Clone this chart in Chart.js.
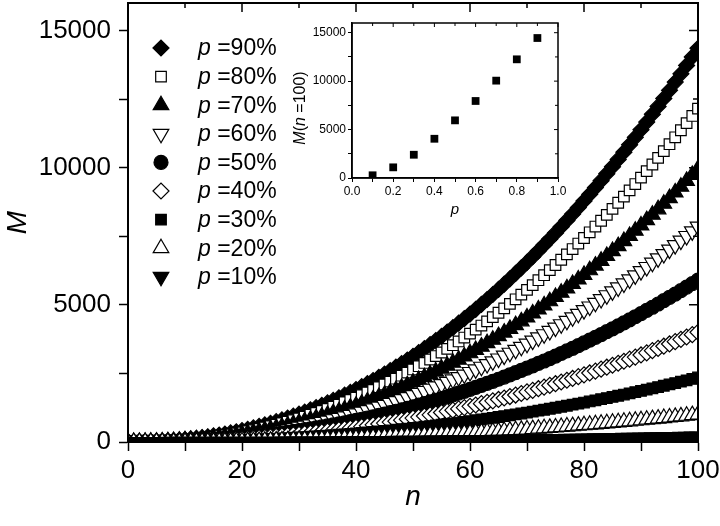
<!DOCTYPE html>
<html>
<head>
<meta charset="utf-8">
<script src="https://cdn.jsdelivr.net/npm/chart.js@4.4.1/dist/chart.umd.min.js"></script>
<style>
  html, body { margin: 0; padding: 0; background: #fff; }
  #wrap { position: relative; width: 720px; height: 526px; }
  #main { position: absolute; left: 0; top: 0; }
  #inset { position: absolute; left: 280px; top: 8px; }
</style>
</head>
<body>
<div id="wrap">
  <canvas id="main" width="720" height="526"></canvas>
  <canvas id="inset" width="290" height="222"></canvas>
</div>
<script>
// n = 0..100
const nValues = [0,1,2,3,4,5,6,7,8,9,10,11,12,13,14,15,16,17,18,19,20,21,22,23,24,25,26,27,28,29,30,31,32,33,34,35,36,37,38,39,40,41,42,43,44,45,46,47,48,49,50,51,52,53,54,55,56,57,58,59,60,61,62,63,64,65,66,67,68,69,70,71,72,73,74,75,76,77,78,79,80,81,82,83,84,85,86,87,88,89,90,91,92,93,94,95,96,97,98,99,100];

const m90 = [0,1,3,6,12,20,29,41,55,72, 91,112,135,161,190,221,255,291,330,372, 416,463,513,566,621,680,741,805,872,942, 1015,1091,1170,1252,1337,1425,1516,1610,1708,1808, 1912,2018,2128,2241,2357,2477,2600,2726,2855,2987, 3123,3262,3404,3550,3699,3852,4008,4167,4329,4495, 4664,4837,5013,5193,5376,5562,5752,5946,6143,6343, 6547,6755,6966,7181,7399,7620,7846,8075,8307,8543, 8783,9026,9273,9524,9778,10036,10298,10563,10832,11104, 11381,11661,11945,12232,12523,12818,13117,13419,13725,14035, 14350];
const m80 = [0,0,2,5,10,17,25,35,47,61, 77,95,114,137,161,187,216,246,279,315, 352,392,434,479,526,576,627,682,738,798, 859,924,991,1060,1132,1206,1284,1363,1446,1531, 1618,1709,1802,1898,1996,2097,2201,2308,2417,2529, 2644,2762,2882,3006,3132,3261,3393,3528,3665,3806, 3949,4095,4244,4397,4552,4710,4870,5034,5201,5371, 5543,5719,5898,6080,6264,6452,6643,6837,7033,7233, 7436,7642,7852,8064,8279,8497,8719,8943,9171,9402, 9636,9873,10113,10357,10603,10853,11106,11362,11621,11883, 12150];
const m70 = [0,0,2,4,8,14,20,29,38,50, 63,77,94,112,132,153,177,202,229,258, 288,321,356,392,431,471,514,558,605,653, 704,756,811,868,927,988,1051,1116,1184,1254, 1325,1399,1476,1554,1635,1717,1803,1890,1979,2071, 2166,2262,2361,2462,2565,2671,2779,2889,3002,3117, 3234,3354,3476,3601,3728,3857,3988,4123,4259,4398, 4540,4684,4830,4979,5130,5284,5440,5599,5760,5924, 6090,6259,6430,6604,6780,6959,7140,7324,7510,7699, 7891,8085,8282,8481,8683,8888,9095,9305,9517,9732, 9950];
const m60 = [0,0,1,4,7,11,16,23,30,39, 50,61,74,88,104,121,139,159,180,203, 228,253,281,309,340,372,405,440,477,515, 555,597,640,685,731,780,829,881,934,989, 1046,1104,1164,1226,1290,1355,1422,1491,1562,1634, 1708,1785,1862,1942,2024,2107,2192,2279,2368,2459, 2551,2646,2742,2841,2941,3043,3147,3253,3360,3470, 3582,3695,3811,3928,4047,4169,4292,4417,4544,4673, 4805,4938,5073,5210,5349,5490,5633,5778,5925,6074, 6226,6379,6534,6691,6851,7012,7176,7341,7508,7678, 7850];
const m50 = [0,0,1,3,5,8,12,17,23,30, 37,46,56,66,78,91,105,120,136,153, 171,190,211,233,255,279,305,331,359,387, 417,449,481,515,550,586,623,662,702,743, 786,830,875,921,969,1018,1069,1121,1174,1228, 1284,1341,1400,1460,1521,1584,1648,1713,1780,1848, 1918,1989,2061,2135,2210,2287,2365,2445,2526,2608, 2692,2777,2864,2952,3042,3133,3226,3320,3415,3512, 3611,3711,3813,3916,4020,4126,4234,4343,4453,4565, 4679,4794,4911,5029,5149,5270,5393,5517,5643,5771, 5900];
const m40 = [0,0,1,2,3,5,8,12,15,20, 25,31,38,45,53,62,71,81,92,104, 116,129,143,158,173,189,207,224,243,263, 283,304,326,349,373,397,423,449,476,504, 533,563,593,625,657,690,725,760,796,833, 871,909,949,990,1031,1074,1117,1161,1207,1253, 1300,1348,1397,1447,1499,1550,1603,1657,1712,1768, 1825,1883,1942,2002,2062,2124,2187,2251,2316,2381, 2448,2516,2585,2655,2726,2797,2870,2944,3019,3095, 3172,3250,3330,3410,3491,3573,3656,3741,3826,3912, 4000];
const m30 = [0,0,0,1,2,3,5,7,9,12, 15,18,22,26,31,36,42,48,54,61, 68,76,84,93,102,111,121,132,143,154, 166,179,192,205,219,233,248,264,280,296, 313,331,349,367,386,406,426,446,468,489, 511,534,558,581,606,631,656,682,709,736, 764,792,821,850,880,911,942,974,1006,1039, 1072,1106,1141,1176,1212,1248,1285,1322,1360,1399, 1438,1478,1519,1560,1601,1644,1686,1730,1774,1818, 1864,1910,1956,2003,2051,2099,2148,2198,2248,2298, 2350];
const m20 = [0,0,0,0,1,1,2,3,4,5, 6,8,9,11,13,15,18,20,23,26, 29,32,36,39,43,47,52,56,61,66, 71,76,82,87,93,99,106,112,119,126, 133,141,148,156,164,173,181,190,199,208, 218,227,237,247,258,268,279,290,302,313, 325,337,349,362,375,388,401,414,428,442, 456,471,485,500,516,531,547,563,579,595, 612,629,646,664,681,699,718,736,755,774, 793,813,832,852,873,893,914,935,956,978, 1000];
const m10 = [0,0,0,0,0,0,0,1,1,1, 1,2,2,2,3,3,4,4,5,5, 6,6,7,8,9,9,10,11,12,13, 14,15,16,17,19,20,21,22,24,25, 27,28,30,31,33,35,36,38,40,42, 44,45,47,49,52,54,56,58,60,63, 65,67,70,72,75,78,80,83,86,88, 91,94,97,100,103,106,109,113,116,119, 122,126,129,133,136,140,144,147,151,155, 159,163,166,170,175,179,183,187,191,196, 200];

const seriesLabels = ['90%', '80%', '70%', '60%', '50%', '40%', '30%', '20%', '10%'];
const seriesValues = [m90, m80, m70, m60, m50, m40, m30, m20, m10];

// inset: M at n = 100 against p
const insetP = [0.1, 0.2, 0.3, 0.4, 0.5, 0.6, 0.7, 0.8, 0.9];
const insetM = [280, 1100, 2400, 4050, 5950, 7950, 10050, 12250, 14450];

// tick positions (labels only on every other one)
const yTickValues = [0, 2500, 5000, 7500, 10000, 12500, 15000];

const markers = [
  { style: 'rectRot',  filled: true,  radius: 8,   rotation: 0 },
  { style: 'rect',     filled: false, radius: 7.5, rotation: 0 },
  { style: 'triangle', filled: true,  radius: 9,   rotation: 0 },
  { style: 'triangle', filled: false, radius: 9,   rotation: 180 },
  { style: 'circle',   filled: true,  radius: 7,   rotation: 0 },
  { style: 'rectRot',  filled: false, radius: 8,   rotation: 0 },
  { style: 'rect',     filled: true,  radius: 7.5, rotation: 0 },
  { style: 'triangle', filled: false, radius: 9,   rotation: 0 },
  { style: 'triangle', filled: true,  radius: 9,   rotation: 180 },
];

const FONT = '"Liberation Sans", Arial, sans-serif';

function isMajor(v, step) {
  const q = v / step;
  return Math.abs(q - Math.round(q)) < 1e-6;
}

// keep the plot box where it is, labels may stick out
function noPadding(s) {
  s.getPadding = () => ({ left: 0, top: 0, right: 0, bottom: 0 });
}

// box with inward ticks on top and right
const framePlugin = {
  id: 'frame',
  afterDatasetsDraw(chart, args, opts) {
    const { ctx, chartArea: a, scales: { x, y } } = chart;
    ctx.save();
    ctx.strokeStyle = '#000';
    ctx.lineWidth = opts.lineWidth;
    ctx.strokeRect(a.left, a.top, a.right - a.left, a.bottom - a.top);
    ctx.lineWidth = opts.tickWidth;
    ctx.beginPath();
    x.ticks.forEach(t => {
      const px = x.getPixelForValue(t.value);
      const len = isMajor(t.value, opts.majorX) ? opts.major : opts.minor;
      ctx.moveTo(px, a.top);
      ctx.lineTo(px, a.top + len);
    });
    y.ticks.forEach(t => {
      const py = y.getPixelForValue(t.value);
      const len = isMajor(t.value, opts.majorY) ? opts.major : opts.minor;
      ctx.moveTo(a.right, py);
      ctx.lineTo(a.right - len, py);
    });
    ctx.stroke();
    ctx.restore();
  }
};

const legendPlugin = {
  id: 'pLegend',
  afterDraw(chart) {
    const ctx = chart.ctx;
    ctx.save();
    seriesLabels.forEach((lab, i) => {
      const m = markers[i];
      const y = 48 + i * 28.6;
      ctx.fillStyle = m.filled ? '#000' : '#fff';
      ctx.strokeStyle = '#000';
      ctx.lineWidth = 1.2;
      Chart.helpers.drawPoint(ctx, { pointStyle: m.style, radius: m.radius, rotation: m.rotation, borderWidth: 1.2 }, 161, y);
      ctx.fillStyle = '#000';
      ctx.textBaseline = 'middle';
      ctx.textAlign = 'left';
      ctx.font = 'italic 23px ' + FONT;
      ctx.fillText('p', 198, y + 1);
      const w = ctx.measureText('p').width;
      ctx.font = '23px ' + FONT;
      ctx.fillText(' =' + lab, 198 + w, y + 1);
    });
    ctx.restore();
  }
};

const datasets = seriesValues.map((vals, i) => {
  const m = markers[i];
  return {
    label: 'p =' + seriesLabels[i],
    data: nValues.map((n, k) => ({ x: n, y: vals[k] })),
    pointStyle: m.style,
    pointRadius: m.radius,
    pointRotation: m.rotation,
    pointBackgroundColor: m.filled ? '#000' : '#fff',
    pointBorderColor: '#000',
    pointBorderWidth: 1.2,
    showLine: false,
    order: seriesValues.length - 1 - i,
  };
});

new Chart(document.getElementById('main'), {
  type: 'scatter',
  data: { datasets },
  options: {
    responsive: false,
    animation: false,
    devicePixelRatio: 1,
    layout: { autoPadding: false, padding: { top: 3, right: 22, left: 0, bottom: 0 } },
    plugins: {
      legend: { display: false },
      tooltip: { enabled: false },
      frame: { lineWidth: 2, tickWidth: 1.5, major: 9, minor: 5, majorX: 20, majorY: 5000 },
    },
    scales: {
      x: {
        type: 'linear', min: 0, max: 100,
        ticks: {
          stepSize: 10, autoSkip: false, maxRotation: 0, padding: 4, color: '#000',
          font: { family: FONT, size: 26 },
          callback: v => isMajor(v, 20) ? v : '',
        },
        grid: { drawOnChartArea: false, tickLength: 9, tickColor: '#000', tickWidth: 1.5 },
        border: { display: true, color: '#000', width: 2 },
        title: { display: true, text: 'n', color: '#000', font: { family: FONT, size: 28, style: 'italic' }, padding: { top: 0, bottom: 12 } },
        afterFit: s => { s.height = 84; noPadding(s); },
      },
      y: {
        type: 'linear', min: 0, max: 16000,
        afterBuildTicks: s => { s.ticks = yTickValues.map(v => ({ value: v })); },
        ticks: {
          autoSkip: false, padding: 8, color: '#000',
          font: { family: FONT, size: 26 },
          callback: v => isMajor(v, 5000) ? v : '',
        },
        grid: { drawOnChartArea: false, tickLength: 9, tickColor: '#000', tickWidth: 1.5 },
        border: { display: true, color: '#000', width: 2 },
        title: { display: true, text: 'M', color: '#000', font: { family: FONT, size: 28, style: 'italic' }, padding: { top: 1, bottom: 0 } },
        afterFit: s => { s.width = 128; noPadding(s); },
      },
    },
  },
  plugins: [framePlugin, legendPlugin],
});

// y title of the inset with italic M and n
const insetTitlePlugin = {
  id: 'insetTitle',
  afterDraw(chart) {
    const ctx = chart.ctx;
    const parts = [['M', 'italic '], ['(', ''], ['n', 'italic '], [' =100)', '']];
    ctx.save();
    ctx.translate(21, 100);
    ctx.rotate(-Math.PI / 2);
    ctx.fillStyle = '#000';
    ctx.textBaseline = 'middle';
    let total = 0;
    parts.forEach(([t, st]) => { ctx.font = st + '16px ' + FONT; total += ctx.measureText(t).width; });
    let x = -total / 2;
    parts.forEach(([t, st]) => {
      ctx.font = st + '16px ' + FONT;
      ctx.fillText(t, x, 0);
      x += ctx.measureText(t).width;
    });
    ctx.restore();
  }
};

new Chart(document.getElementById('inset'), {
  type: 'scatter',
  data: {
    datasets: [{
      label: 'M(n=100)',
      data: insetP.map((p, k) => ({ x: p, y: insetM[k] })),
      pointStyle: 'rect',
      pointRadius: 5.5,
      pointBackgroundColor: '#000',
      pointBorderColor: '#000',
      pointBorderWidth: 0,
    }],
  },
  options: {
    responsive: false,
    animation: false,
    devicePixelRatio: 1,
    layout: { autoPadding: false, padding: { top: 15, right: 12, left: 0, bottom: 0 } },
    plugins: {
      legend: { display: false },
      tooltip: { enabled: false },
      frame: { lineWidth: 1.5, tickWidth: 1, major: 4, minor: 3, majorX: 0.2, majorY: 5000 },
    },
    scales: {
      x: {
        type: 'linear', min: 0, max: 1,
        ticks: {
          stepSize: 0.1, autoSkip: false, maxRotation: 0, padding: 2, color: '#000',
          font: { family: FONT, size: 12 },
          callback: v => isMajor(v, 0.2) ? v.toFixed(1) : '',
        },
        grid: { drawOnChartArea: false, tickLength: 4, tickColor: '#000', tickWidth: 1 },
        border: { display: true, color: '#000', width: 1.5 },
        title: { display: true, text: 'p', color: '#000', font: { family: FONT, size: 15, style: 'italic' }, padding: { top: 0, bottom: 11 } },
        afterFit: s => { s.height = 52; noPadding(s); },
      },
      y: {
        type: 'linear', min: 0, max: 16000,
        afterBuildTicks: s => { s.ticks = yTickValues.map(v => ({ value: v })); },
        ticks: {
          autoSkip: false, padding: 2, color: '#000',
          font: { family: FONT, size: 12 },
          callback: v => isMajor(v, 5000) ? v : '',
        },
        grid: { drawOnChartArea: false, tickLength: 4, tickColor: '#000', tickWidth: 1 },
        border: { display: true, color: '#000', width: 1.5 },
        title: { display: false },
        afterFit: s => { s.width = 72; noPadding(s); },
      },
    },
  },
  plugins: [framePlugin, insetTitlePlugin],
});
</script>
</body>
</html>
